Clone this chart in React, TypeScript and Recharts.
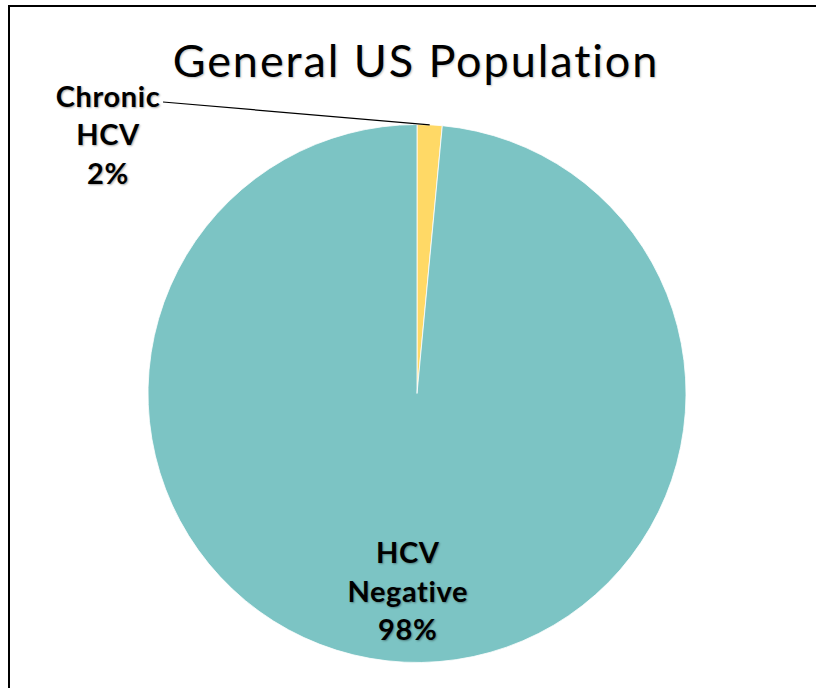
import { PieChart, Pie, Cell } from 'recharts';

const categories = ['Chronic HCV', 'HCV Negative'];
const shares = [1.5, 98.5];
const shareLabels = ['2%', '98%'];
const sliceColors = ['#FFD966', '#7CC4C4'];
const chartTitle = 'General US Population';

const data = categories.map((name, i) => ({ name, value: shares[i], pct: shareLabels[i] }));

const RAD = Math.PI / 180;
const FONT = 'Lato, "Open Sans", sans-serif';
const LINE_GAP = 38.5;

// Excel places the small slice's label up and to the left; the big one sits inside.
function SliceLabel(props: any) {
  const { cx, cy, midAngle, outerRadius, index } = props;
  const lines = [...data[index].name.split(' '), data[index].pct];
  let x: number;
  let y0: number;
  if (index === 0) {
    x = cx - 309;
    y0 = cy - 298.5;
  } else {
    const r = outerRadius * 0.732;
    x = cx + r * Math.cos(-midAngle * RAD);
    y0 = cy + r * Math.sin(-midAngle * RAD) - LINE_GAP;
  }
  return (
    <text
      x={x}
      y={y0}
      textAnchor="middle"
      fontFamily={FONT}
      fontWeight={700}
      fontSize={29}
      letterSpacing={0.6}
      fill="#000"
      style={{ textShadow: '1px 1px 2px rgba(0,0,0,0.35)' }}
    >
      {lines.map((t, i) => (
        <tspan key={i} x={x} y={y0 + i * LINE_GAP} dominantBaseline="central">
          {t}
        </tspan>
      ))}
    </text>
  );
}

function LeaderLine(props: any) {
  const { cx, cy, midAngle, outerRadius, index } = props;
  if (index !== 0) return null;
  const ex = cx + outerRadius * Math.cos(-midAngle * RAD);
  const ey = cy + outerRadius * Math.sin(-midAngle * RAD);
  return <path d={`M ${cx - 254} ${cy - 291.5} L ${ex} ${ey}`} stroke="#000" strokeWidth={1.2} fill="none" />;
}

export default function App() {
  return (
    <div
      style={{
        position: 'absolute',
        left: 8,
        top: 5,
        width: 806,
        height: 681,
        borderLeft: '2px solid #000',
        borderTop: '2px solid #000',
        background: '#fff',
        overflow: 'hidden',
      }}
    >
      <div
        style={{
          position: 'absolute',
          left: 9,
          width: 794,
          top: 28,
          textAlign: 'center',
          fontFamily: FONT,
          fontSize: 45,
          letterSpacing: 1.9,
          lineHeight: '50px',
          color: '#000',
          textShadow: '1px 1px 2px rgba(0,0,0,0.25)',
        }}
      >
        {chartTitle}
      </div>
      <PieChart width={806} height={681} margin={{ top: 0, right: 0, bottom: 0, left: 0 }}>
        <Pie
          data={data}
          dataKey="value"
          nameKey="name"
          cx={407}
          cy={386.5}
          outerRadius={269}
          startAngle={90}
          endAngle={-270}
          stroke="#fff"
          strokeWidth={0.8}
          label={SliceLabel}
          labelLine={LeaderLine}
          isAnimationActive={false}
        >
          {data.map((d, i) => (
            <Cell key={d.name} fill={sliceColors[i]} />
          ))}
        </Pie>
      </PieChart>
    </div>
  );
}
